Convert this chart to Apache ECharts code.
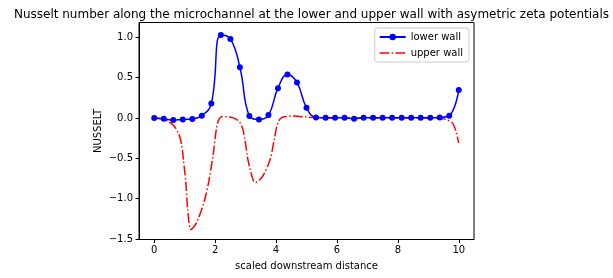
<!DOCTYPE html>
<html>
<head>
<meta charset="utf-8">
<script src="https://cdn.jsdelivr.net/npm/echarts@6/dist/echarts.min.js"></script>
<style>html,body{margin:0;padding:0;background:#fff;}#c{width:613px;height:278px;}</style>
</head>
<body>
<div id="c"></div>
<script>
var titleText = 'Nusselt number along the microchannel at the lower and upper wall with asymetric zeta potentials';
var xTicks = [0, 2, 4, 6, 8, 10];
var yTicks = [-1.5, -1.0, -0.5, 0.0, 0.5, 1.0];

var lowerX = [0, 0.3125, 0.625, 0.9375, 1.25, 1.5625, 1.875, 2.1875, 2.5, 2.8125, 3.125, 3.4375, 3.75, 4.0625, 4.375, 4.6875, 5.0,
  5.3125, 5.625, 5.9375, 6.25, 6.5625, 6.875, 7.1875, 7.5, 7.8125, 8.125, 8.4375, 8.75, 9.0625, 9.375, 9.6875, 10];
var lowerY = [0.0, -0.01, -0.025, -0.017, -0.012, 0.03, 0.18, 1.03, 0.98, 0.63, 0.025, -0.017, 0.037, 0.37, 0.54, 0.44, 0.128,
  0.008, 0.003, 0.005, 0.005, -0.008, 0.005, 0.005, 0.005, 0.005, 0.005, 0.005, 0.005, 0.005, 0.008, 0.03, 0.347];

var upperX = [0, 0.3, 0.47, 0.63, 0.8, 0.9, 0.96, 1.04, 1.1, 1.2, 1.3, 1.4, 1.62, 1.78, 1.94, 2.05, 2.12, 2.22, 2.4, 2.57, 2.75, 2.87,
  2.98, 3.06, 3.14, 3.25, 3.32, 3.45, 3.58, 3.8, 3.94, 4.02, 4.1, 4.18, 4.35, 4.51, 4.75, 4.95, 5.3, 6, 7, 8, 9, 9.4, 9.6, 9.8, 9.91, 10];
var upperY = [0.0, -0.015, -0.045, -0.09, -0.19, -0.33, -0.52, -0.81, -1.14, -1.38, -1.35, -1.29, -1.06, -0.81, -0.44, -0.11, -0.02,
  0.02, 0.015, 0.005, -0.03, -0.09, -0.27, -0.48, -0.62, -0.77, -0.8, -0.77, -0.71, -0.52, -0.27, -0.11, -0.03, 0.005, 0.02, 0.025,
  0.02, 0.015, 0.005, 0.0, 0.0, 0.0, 0.0, -0.005, -0.02, -0.066, -0.17, -0.31];

function zip(a, b) { return a.map(function (v, i) { return [v, b[i]]; }); }
function fmt(v) { var s = v.toFixed(1); return s.replace('-', '\u2212'); }

var font = 'DejaVu Sans';
var dashDot = [9.6, 2.4, 1.5, 2.4];
var chart = echarts.init(document.getElementById('c'), null, { renderer: 'canvas' });
chart.setOption({
  animation: false,
  backgroundColor: '#fff',
  textStyle: { fontFamily: font },
  title: {
    text: titleText, left: 306.5, textAlign: 'center', top: 4,
    textStyle: { fontFamily: font, fontSize: 12, fontWeight: 'normal', color: '#000' }
  },
  grid: { left: 139, right: 139, top: 22.5, bottom: 38.5, show: true, borderColor: '#000', borderWidth: 1, backgroundColor: 'transparent' },
  legend: {
    right: 144, top: 28, orient: 'vertical', itemWidth: 26, itemHeight: 8, itemGap: 6,
    padding: [4, 6, 4, 4], borderColor: '#ccc', borderWidth: 1, borderRadius: 3, backgroundColor: '#fff',
    textStyle: { fontFamily: font, fontSize: 10, color: '#000' },
    data: [
      { name: 'lower wall' },
      { name: 'upper wall', itemStyle: { color: 'rgba(0,0,0,0)', borderColor: 'rgba(0,0,0,0)', borderWidth: 0, opacity: 0 },
        lineStyle: { color: '#ff0000', width: 1.5, type: dashDot } }
    ]
  },
  xAxis: {
    type: 'value', min: -0.5, max: 10.5,
    name: 'scaled downstream distance', nameLocation: 'middle', nameGap: 22, nameMoveOverlap: false,
    nameTextStyle: { fontFamily: font, fontSize: 10, color: '#000' },
    axisLine: { show: true, onZero: false, lineStyle: { color: '#000', width: 1 } },
    axisTick: { show: true, length: 3.5, lineStyle: { color: '#000' }, customValues: xTicks },
    axisLabel: { fontFamily: font, fontSize: 10, color: '#000', margin: 6, customValues: xTicks, formatter: function (v) { return String(v); } },
    splitLine: { show: false }
  },
  yAxis: {
    type: 'value', min: -1.505, max: 1.184,
    name: 'NUSSELT', nameLocation: 'middle', nameGap: 36, nameRotate: 90, nameMoveOverlap: false,
    nameTextStyle: { fontFamily: font, fontSize: 10, color: '#000' },
    axisLine: { show: true, onZero: false, lineStyle: { color: '#000', width: 1 } },
    axisTick: { show: true, length: 3.5, lineStyle: { color: '#000' }, customValues: yTicks },
    axisLabel: { fontFamily: font, fontSize: 10, color: '#000', margin: 6, customValues: yTicks, formatter: fmt },
    splitLine: { show: false }
  },
  series: [
    {
      name: 'lower wall', type: 'line', data: zip(lowerX, lowerY), smooth: 0.45,
      symbol: 'circle', symbolSize: 6, showSymbol: true, z: 3,
      itemStyle: { color: '#0000ff' },
      lineStyle: { color: '#0000ff', width: 1.5 }
    },
    {
      name: 'upper wall', type: 'line', data: zip(upperX, upperY), smooth: 0.3,
      symbol: 'none', showSymbol: false, z: 2,
      itemStyle: { color: '#ff0000' },
      lineStyle: { color: '#ff0000', width: 1.5, type: dashDot }
    }
  ]
});
</script>
</body>
</html>
